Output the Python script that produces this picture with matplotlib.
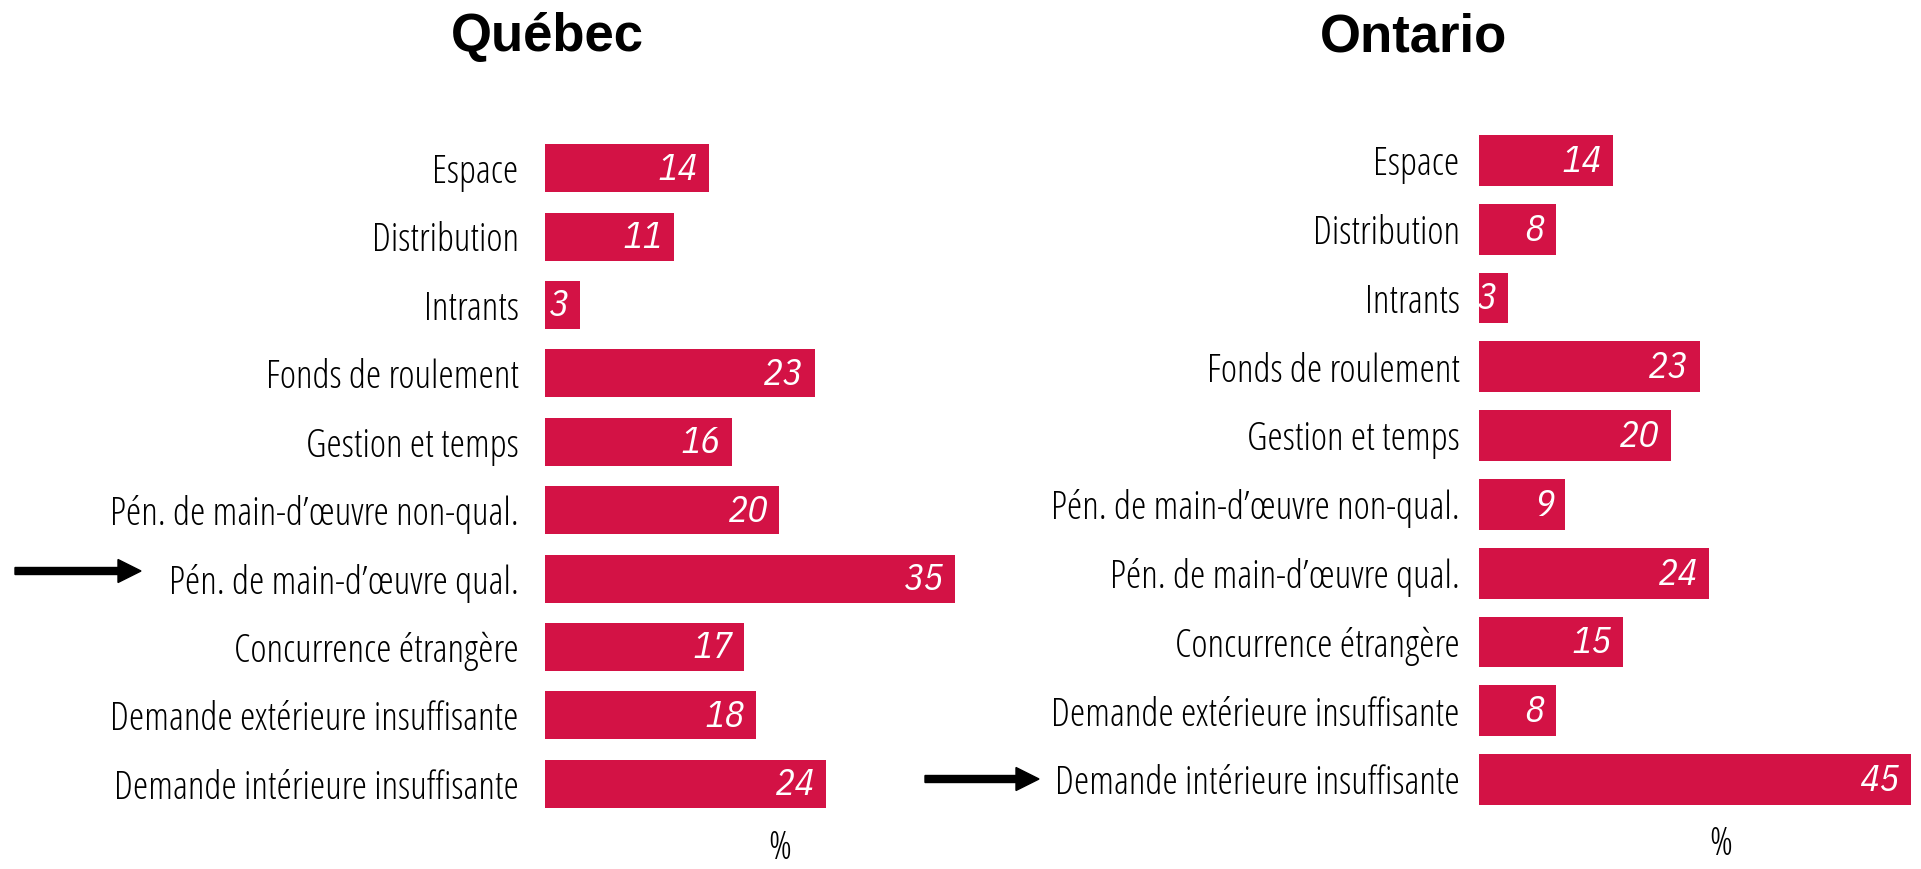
import matplotlib.pyplot as plt
from matplotlib.patches import FancyArrow
from matplotlib.transforms import IdentityTransform

# obstacles, top to bottom
categories = ["Espace", "Distribution", "Intrants", "Fonds de roulement",
              "Gestion et temps", "Pén. de main-d’œuvre non-qual.",
              "Pén. de main-d’œuvre qual.", "Concurrence étrangère",
              "Demande extérieure insuffisante", "Demande intérieure insuffisante"]
quebec = [14, 11, 3, 23, 16, 20, 35, 17, 18, 24]
ontario = [14, 8, 3, 23, 20, 9, 24, 15, 8, 45]

RED = "#D31245"
LABEL_FONT = dict(family=["Open Sans", "DejaVu Sans"], stretch="condensed", weight=300)
VALUE_FONT = dict(family=["IBM Plex Sans Condensed", "DejaVu Sans"], stretch="condensed",
                  weight=400, style="italic")
W, H = 1921, 869

fig = plt.figure(figsize=(W / 100, H / 100), dpi=100)


def px_axes(left, right, top, bottom):
    return fig.add_axes([left / W, 1 - bottom / H, (right - left) / W, (bottom - top) / H])


def panel(ax, values, xmax, bar_h, pad):
    y = list(range(len(categories)))
    ax.barh(y, values, height=bar_h, color=RED)
    ax.set_xlim(0, xmax)
    ax.set_ylim(len(categories) - 0.5, -0.5)
    ax.set_yticks(y)
    ax.set_yticklabels(categories, fontsize=28, **LABEL_FONT)
    ax.tick_params(axis="y", length=0, pad=pad)
    ax.set_xticks([])
    for s in ax.spines.values():
        s.set_visible(False)
    for yi, v in zip(y, values):
        ax.annotate(str(v), (v, yi), xytext=(-8, -1), textcoords="offset points",
                    ha="right", va="center", color="white", fontsize=27, **VALUE_FONT)


axq = px_axes(545, 961, 134, 818)
panel(axq, quebec, 35.5, 0.7, 19)
axo = px_axes(1479, 1911, 126, 814)
panel(axo, ontario, 45, 0.74, 14)

fig.text(547 / W, 1 - 37 / H, "Québec", ha="center", va="center",
         fontsize=38, fontweight="bold", family="Liberation Sans")
fig.text(1413 / W, 1 - 38 / H, "Ontario", ha="center", va="center",
         fontsize=38, fontweight="bold", family="Liberation Sans")
fig.text(780 / W, 1 - 849 / H, "%", ha="center", va="center", fontsize=28, **LABEL_FONT)
fig.text(1721 / W, 1 - 845 / H, "%", ha="center", va="center", fontsize=28, **LABEL_FONT)

# arrows pointing at the main obstacle in each province
for x0, x1, yy in [(15, 141, H - 571), (925, 1039, H - 779)]:
    fig.add_artist(FancyArrow(x0, yy, x1 - x0, 0, width=7, head_width=23,
                              head_length=23, length_includes_head=True,
                              color="black", transform=IdentityTransform()))

fig.savefig("out.png", dpi=100)
